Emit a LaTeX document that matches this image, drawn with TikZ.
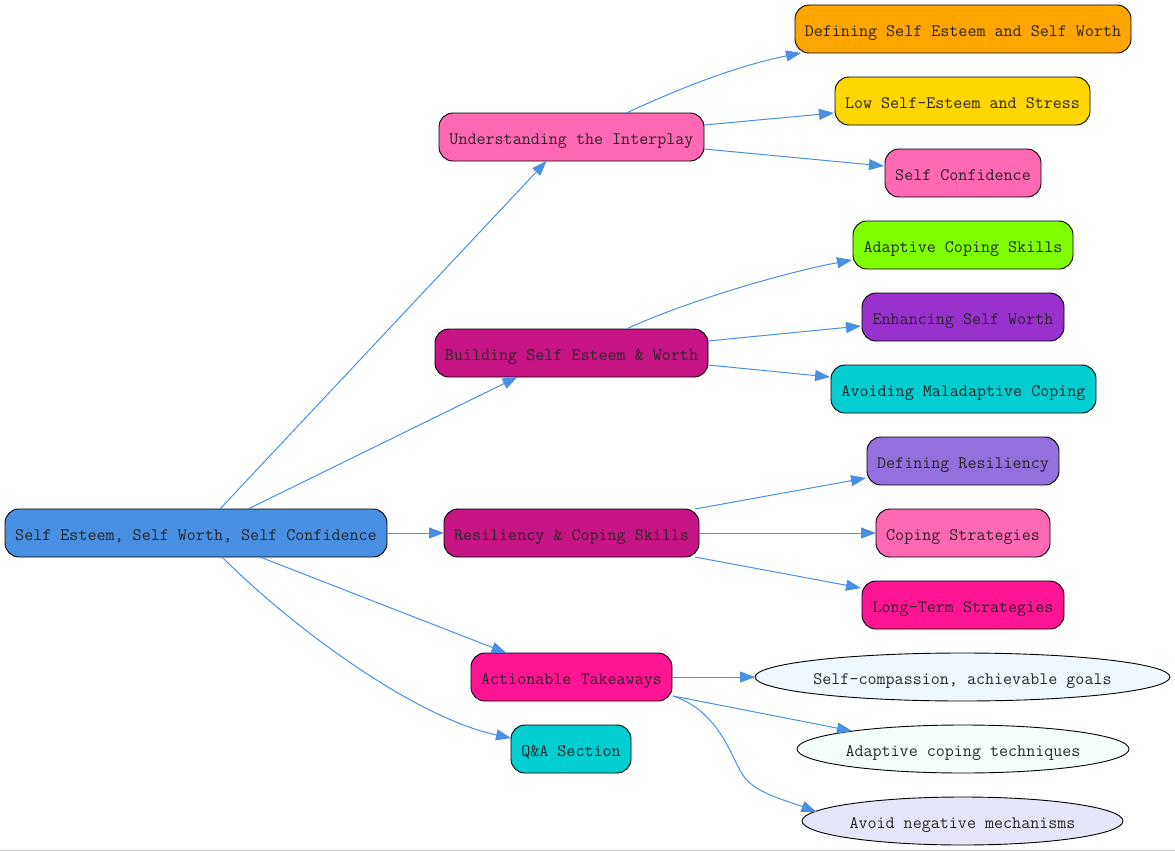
\documentclass[tikz,border=0pt]{standalone}
\usepackage{fontspec}
\usetikzlibrary{arrows.meta,shapes.geometric}
\definecolor{edgeblue}{HTML}{4A90E2}
\definecolor{cRoot}{HTML}{4A90E2}
\definecolor{cHot}{HTML}{FF69B4}
\definecolor{cViolet}{HTML}{C71585}
\definecolor{cDeep}{HTML}{FF1493}
\definecolor{cTurq}{HTML}{00CED1}
\definecolor{cOrange}{HTML}{FFA500}
\definecolor{cGold}{HTML}{FFD700}
\definecolor{cChart}{HTML}{7FFF00}
\definecolor{cOrchid}{HTML}{9932CC}
\definecolor{cPurple}{HTML}{9370DB}
\definecolor{cAlice}{HTML}{F0F8FF}
\definecolor{cMint}{HTML}{F5FFFA}
\definecolor{cLav}{HTML}{E6E6FA}
\tikzset{
  x=1pt,y=-1pt,
  lbl/.style={font=\ttfamily\fontsize{17.55}{20}\selectfont,text=black!85,inner sep=0pt,outer sep=0pt,line width=0.9pt,draw=black,text height=14.5pt,text depth=0pt},
  rbox/.style={lbl,rectangle,rounded corners=14pt,minimum height=48pt},
  oval/.style={lbl,ellipse,minimum height=48pt},
  link/.style={draw=edgeblue,line width=1pt,-{Triangle[length=15pt,width=11pt,fill=edgeblue]}},
}
\begin{document}
\begin{tikzpicture}
\useasboundingbox (0,0) rectangle (1175,851);
\fill[white] (0,0) rectangle (1175,851);
\draw[black!20,line width=1pt] (0,850.5) -- (1175,850.5);

\node[rbox,fill=cRoot,minimum width=382pt] (root) at (196,533) {Self Esteem, Self Worth, Self Confidence};

\node[rbox,fill=cHot,minimum width=265pt] (und) at (571.5,137) {Understanding the Interplay};
\node[rbox,fill=cViolet,minimum width=273pt] (bld) at (571.5,353) {Building Self Esteem \& Worth};
\node[rbox,fill=cViolet,minimum width=255pt] (res) at (571.5,533) {Resiliency \& Coping Skills};
\node[rbox,fill=cDeep,minimum width=201pt] (act) at (571.5,677) {Actionable Takeaways};
\node[rbox,fill=cTurq,minimum width=120pt] (qa) at (571,749) {Q\&A Section};

\node[rbox,fill=cOrange,minimum width=336pt] (def) at (963,29) {Defining Self Esteem and Self Worth};
\node[rbox,fill=cGold,minimum width=255pt] (low) at (962.5,101) {Low Self-Esteem and Stress};
\node[rbox,fill=cHot,minimum width=156pt] (conf) at (963,173) {Self Confidence};
\node[rbox,fill=cChart,minimum width=220pt] (adapt) at (963,245) {Adaptive Coping Skills};
\node[rbox,fill=cOrchid,minimum width=202pt] (enh) at (963,317) {Enhancing Self Worth};
\node[rbox,fill=cTurq,minimum width=265pt] (avoid) at (963.5,389) {Avoiding Maladaptive Coping};
\node[rbox,fill=cPurple,minimum width=192pt] (dres) at (963,461) {Defining Resiliency};
\node[rbox,fill=cHot,minimum width=174pt] (cope) at (963,533) {Coping Strategies};
\node[rbox,fill=cDeep,minimum width=202pt] (long) at (963,605) {Long-Term Strategies};

\node[oval,fill=cAlice,minimum width=415pt] (comp) at (962.5,677) {\makebox[0pt][c]{Self-compassion, achievable goals}};
\node[oval,fill=cMint,minimum width=332pt] (tech) at (963,749) {\makebox[0pt][c]{Adaptive coping techniques}};
\node[oval,fill=cLav,minimum width=321pt] (neg) at (962.5,821) {\makebox[0pt][c]{Avoid negative mechanisms}};

\draw[link] ([xshift=24pt]root.north) -- ([xshift=-25pt]und.south);
\draw[link] ([xshift=52pt]root.north) -- ([xshift=-54pt]bld.south);
\draw[link] (root.east) -- (res.west);
\draw[link] ([xshift=64pt]root.south) -- ([xshift=-65pt]act.north);
\draw[link] ([xshift=26pt]root.south) .. controls +(72,72) and +(-95,-20) .. ([shift={(0,-11)}]qa.west);

\draw[link] ([xshift=55pt]und.north) .. controls +(60,-28) and +(-60,12) .. ([xshift=-162pt]def.south);
\draw[link] ([shift={(0,-12)}]und.east) -- ([shift={(-1,12)}]low.west);
\draw[link] ([shift={(0,12)}]und.east) -- ([shift={(-1,-7)}]conf.west);

\draw[link] ([xshift=55pt]bld.north) .. controls +(60,-28) and +(-65,12) .. ([shift={(-1,15)}]adapt.west);
\draw[link] ([shift={(0,-12)}]bld.east) -- ([shift={(-1,9)}]enh.west);
\draw[link] ([shift={(0,12)}]bld.east) -- ([shift={(-1,-12)}]avoid.west);

\draw[link] ([shift={(-4,0)}]res.north east) -- ([shift={(-1,17)}]dres.west);
\draw[link] (res.east) -- (cope.west);
\draw[link] ([shift={(-4,0)}]res.south east) -- ([shift={(-1,-17)}]long.west);

\draw[link] (act.east) -- (comp.west);
\coordinate (actout) at ([shift={(1,19)}]act.east);
\draw[link] (actout) -- ([shift={(-111,6)}]tech.north);
\draw[link] (actout) .. controls (722,712) and (732,762) .. (745,778) .. controls (758,794) and (788,801) .. ([shift={(-146,-9)}]neg.center);
\end{tikzpicture}
\end{document}
